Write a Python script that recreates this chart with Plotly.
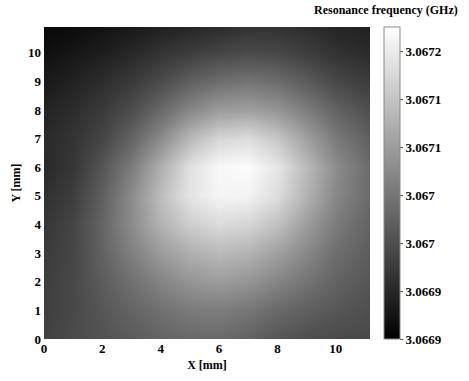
import plotly.graph_objects as go

# grid positions (mm)
x_mm = [0, 1, 2, 3, 4, 5, 6, 7, 8, 9, 10, 11.2]
y_mm = [0, 1, 2, 3, 4, 5, 6, 7, 8, 9, 10, 10.9]

# resonance frequency = base + offset (kHz), rows from y=0 (bottom) upward
base_ghz = 3.06688
offset_khz = [
    [83, 96, 105, 115, 125, 134, 134, 125, 108, 99, 94, 92],
    [79, 92, 110, 128, 143, 156, 159, 150, 134, 121, 110, 99],
    [77, 92, 117, 143, 168, 189, 198, 189, 168, 147, 125, 108],
    [74, 89, 125, 163, 198, 223, 236, 227, 204, 172, 140, 117],
    [70, 87, 128, 179, 227, 261, 278, 270, 245, 198, 156, 125],
    [61, 79, 121, 179, 242, 291, 312, 309, 281, 227, 172, 134],
    [51, 70, 108, 159, 223, 287, 316, 321, 293, 236, 179, 134],
    [54, 66, 89, 128, 179, 236, 274, 283, 255, 204, 156, 121],
    [45, 57, 74, 99, 134, 172, 198, 204, 189, 159, 125, 99],
    [32, 43, 57, 74, 96, 121, 140, 147, 138, 115, 92, 74],
    [19, 28, 38, 51, 66, 79, 89, 96, 92, 79, 64, 54],
    [10, 15, 23, 32, 41, 48, 57, 64, 64, 57, 48, 41],
]
z = [[base_ghz + v / 1e6 for v in row] for row in offset_khz]

cbar_min = 3.06688
cbar_max = 3.067205
cbar_tickvals = [3.06688, 3.06693, 3.06698, 3.06703, 3.06708, 3.06713, 3.06718]
cbar_ticktext = ["3.0669", "3.0669", "3.067", "3.067", "3.0671", "3.0671", "3.0672"]

x_ticks = [0, 2, 4, 6, 8, 10]
y_ticks = [0, 1, 2, 3, 4, 5, 6, 7, 8, 9, 10]

FONT = "Liberation Serif"


def bold(labels):
    return ["<b>%s</b>" % t for t in labels]


fig = go.Figure(
    go.Heatmap(
        x=x_mm,
        y=y_mm,
        z=z,
        zsmooth="best",
        colorscale=[[0, "rgb(0,0,0)"], [1, "rgb(255,255,255)"]],
        zmin=cbar_min,
        zmax=cbar_max,
        colorbar=dict(
            x=1.043,
            xanchor="left",
            y=0,
            yanchor="bottom",
            len=1,
            lenmode="fraction",
            thickness=16,
            thicknessmode="pixels",
            outlinewidth=1,
            outlinecolor="#888888",
            tickvals=cbar_tickvals,
            ticktext=bold(cbar_ticktext),
            ticks="outside",
            ticklen=3,
            tickcolor="#555555",
            tickfont=dict(family=FONT, size=13, color="black"),
            ypad=0,
            xpad=0,
        ),
    )
)

fig.update_layout(
    width=469,
    height=381,
    margin=dict(l=44, r=99, t=27, b=37),
    paper_bgcolor="white",
    plot_bgcolor="white",
    font=dict(family=FONT, size=13, color="black"),
    xaxis=dict(
        range=[0, 11.17],
        tickvals=x_ticks,
        ticktext=bold([str(v) for v in x_ticks]),
        ticks="",
        showgrid=False,
        zeroline=False,
        showline=False,
        tickfont=dict(family=FONT, size=13, color="black"),
        title=dict(text="<b>X [mm]</b>", font=dict(family=FONT, size=12), standoff=5),
    ),
    yaxis=dict(
        range=[0, 10.9],
        tickvals=y_ticks,
        ticktext=bold([str(v) for v in y_ticks]),
        ticks="",
        showgrid=False,
        zeroline=False,
        showline=False,
        ticklabelstandoff=2,
        tickfont=dict(family=FONT, size=13, color="black"),
        title=dict(text="<b>Y [mm]</b>", font=dict(family=FONT, size=12), standoff=4),
    ),
    annotations=[
        dict(
            text="<b>Resonance frequency (GHz)</b>",
            xref="paper",
            yref="paper",
            x=1.05,
            y=1.0,
            xanchor="center",
            yanchor="bottom",
            yshift=8,
            showarrow=False,
            font=dict(family=FONT, size=12, color="black"),
        )
    ],
)

fig.write_html("out.html")
